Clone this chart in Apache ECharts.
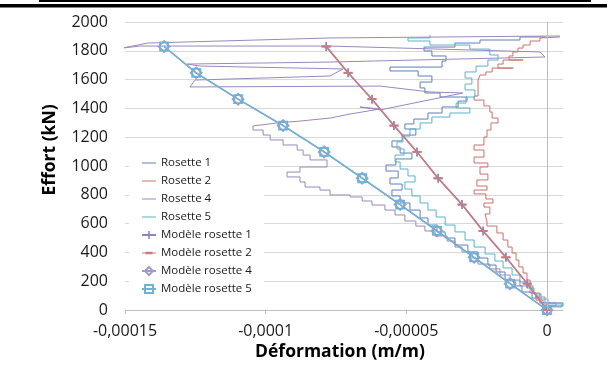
<!DOCTYPE html>
<html><head><meta charset="utf-8">
<script src="https://cdn.jsdelivr.net/npm/echarts@6/dist/echarts.min.js"></script>
<style>html,body{margin:0;padding:0;background:#fff}#c{width:607px;height:374px}</style>
</head><body><div id="c"></div>
<script>
// strain values are in µm/m (micro-strain), loads in kN
const MICRO = 1e-6;
const xTicks = [-0.00015, -0.0001, -0.00005, 0];
const seriesNames = ['Rosette 1','Rosette 2','Rosette 4','Rosette 5','Modèle rosette 1','Modèle rosette 2','Modèle rosette 4','Modèle rosette 5'];

const modelLoad = [0,183,366,549,732,915,1098,1281,1464,1647,1830];
const model12Strain = [0,-7.0,-14.6,-22.7,-30.2,-38.7,-46.2,-54.4,-62.2,-70.7,-78.5];
const model45Strain = [0,-13.1,-25.9,-39.1,-52.2,-65.7,-79.2,-93.8,-109.8,-124.7,-136.1];

const rosette1 = [[0,0],[0,28],[5.7,28],[5.7,49],[-2.5,49],[-2.5,83],[-5.3,83],[-5.3,125],[-8.9,125],[-8.9,167],[-11.4,167],[-11.4,208],[-14.9,208],[-14.9,264],[-18.1,264],[-18.1,312],[-21.0,312],[-21.0,361],[-24.5,361],[-24.5,403],[-28.1,403],[-28.1,451],[-32.7,451],[-32.7,500],[-36.2,500],[-36.2,542],[-39.1,542],[-39.1,590],[-42.3,590],[-42.3,639],[-45.1,639],[-45.1,694],[-48.7,694],[-48.7,743],[-52.2,743],[-52.2,792],[-55.1,792],[-55.1,833],[-51.5,833],[-51.5,875],[-55.8,875],[-55.8,917],[-52.9,917],[-52.9,965],[-57.2,965],[-57.2,1007],[-53.7,1007],[-53.7,1049],[-48.0,1049],[-48.0,1090],[-52.2,1090],[-52.2,1132],[-55.1,1132],[-55.1,1174],[-51.5,1174],[-51.5,1215],[-46.6,1215],[-46.6,1257],[-50.5,1257],[-50.5,1292],[-47.3,1292],[-47.3,1326],[-42.3,1326],[-42.3,1368],[-37.3,1368],[-37.3,1410],[-31.6,1410],[-31.6,1451],[-28.4,1451],[-28.4,1479],[-38.0,1479],[-38.0,1507],[-43.4,1507],[-43.4,1542],[-45.1,1542],[-45.1,1583],[-40.9,1583],[-40.9,1625],[-45.8,1625],[-45.8,1660],[-55.8,1660],[-55.8,1687],[-37.3,1687],[-37.3,1729],[-35.9,1729],[-35.9,1764],[-40.9,1764],[-40.9,1799],[-43.7,1799],[-43.7,1826],[-32.7,1826],[-32.7,1854],[-23.8,1854],[-23.8,1875],[-9.6,1875],[-9.6,1896],[-0.7,1896]];

const rosette2 = [[0.4,0],[0.4,35],[-1.4,35],[-1.4,69],[-3.9,69],[-3.9,97],[-2.5,97],[-2.5,118],[-5.0,118],[-5.0,167],[-6.0,167],[-6.0,208],[-7.1,208],[-7.1,257],[-8.5,257],[-8.5,299],[-10.0,299],[-10.0,347],[-11.0,347],[-11.0,396],[-12.4,396],[-12.4,437],[-13.9,437],[-13.9,486],[-15.6,486],[-15.6,535],[-17.8,535],[-17.8,583],[-21.3,583],[-21.3,611],[-22.0,611],[-22.0,667],[-20.3,667],[-20.3,715],[-22.4,715],[-22.4,743],[-19.2,743],[-19.2,771],[-21.7,771],[-21.7,806],[-25.9,806],[-25.9,833],[-21.3,833],[-21.3,861],[-24.9,861],[-24.9,903],[-21.0,903],[-21.0,944],[-23.8,944],[-23.8,993],[-21.0,993],[-21.0,1021],[-25.9,1021],[-25.9,1062],[-22.4,1062],[-22.4,1111],[-25.9,1111],[-25.9,1146],[-22.4,1146],[-22.4,1201],[-21.3,1201],[-21.3,1250],[-19.9,1250],[-19.9,1299],[-17.4,1299],[-17.4,1333],[-19.5,1333],[-19.5,1375],[-20.3,1375],[-20.3,1417],[-22.4,1417],[-22.4,1458],[-25.9,1458],[-25.9,1486],[-24.5,1486],[-24.5,1597],[-23.8,1597],[-23.8,1632],[-21.7,1632],[-21.7,1653],[-19.5,1653],[-19.5,1680],[-12.0,1680],[-17.4,1680],[-17.4,1708],[-15.6,1708],[-15.6,1736],[-8.5,1736],[-13.5,1736],[-13.5,1764],[-12.1,1764],[-12.1,1792],[-10.3,1792],[-10.3,1819],[-8.5,1819],[-8.5,1840],[-6.0,1840],[-6.0,1868],[-2.5,1868],[-2.5,1889],[4.6,1896]];

const rosette4 = [[0.7,0],[0.7,28],[3.2,28],[3.2,49],[-0.7,49],[-0.7,90],[-3.9,90],[-3.9,118],[-6.0,118],[-6.0,167],[-9.6,167],[-9.6,208],[-13.1,208],[-13.1,243],[-16.7,243],[-16.7,285],[-20.3,285],[-20.3,319],[-24.5,319],[-24.5,361],[-27.4,361],[-27.4,403],[-30.2,403],[-30.2,437],[-32.7,437],[-32.7,479],[-35.5,479],[-35.5,514],[-39.8,514],[-39.8,549],[-43.4,549],[-43.4,583],[-46.6,583],[-46.6,618],[-50.5,618],[-50.5,660],[-54.0,660],[-54.0,694],[-57.6,694],[-57.6,729],[-62.2,729],[-62.2,757],[-65.7,757],[-65.7,785],[-70.0,785],[-70.0,799],[-77.1,799],[-77.1,833],[-80.7,833],[-80.7,854],[-86.0,854],[-86.0,889],[-87.8,889],[-87.8,924],[-92.4,924],[-92.4,958],[-87.8,958],[-87.8,993],[-78.2,993],[-78.2,1042],[-84.2,1042],[-84.2,1076],[-86.7,1076],[-86.7,1111],[-88.8,1111],[-88.8,1146],[-93.8,1146],[-93.8,1181],[-98.4,1181],[-98.4,1215],[-100.9,1215],[-100.9,1250],[-104.5,1250],[-104.5,1278],[-95.9,1299],[-87.8,1312],[-77.1,1333],[-70.0,1361],[-59.3,1396],[-66.5,1410],[-59.3,1389],[-29.9,1507],[-41.6,1514],[-59.3,1555],[-126.9,1549],[-125.1,1597],[-77.1,1625],[-72.5,1674],[-123.3,1694],[-127.9,1708],[-77.1,1722],[-0.7,1757],[-2.5,1792],[-77.1,1833],[-144.6,1833],[-151.0,1819],[-141.8,1854],[-77.1,1889],[4.6,1903]];

const rosette5 = [[0,0],[0,21],[5.3,21],[5.3,42],[0.4,42],[0.4,76],[-2.1,76],[-2.1,111],[-4.6,111],[-4.6,153],[-7.1,153],[-7.1,194],[-9.6,194],[-9.6,243],[-12.4,243],[-12.4,292],[-15.6,292],[-15.6,340],[-18.5,340],[-18.5,389],[-22.0,389],[-22.0,437],[-25.9,437],[-25.9,486],[-29.1,486],[-29.1,542],[-32.7,542],[-32.7,590],[-36.2,590],[-36.2,646],[-39.4,646],[-39.4,694],[-42.3,694],[-42.3,743],[-45.1,743],[-45.1,792],[-48.0,792],[-48.0,840],[-50.5,840],[-50.5,889],[-46.9,889],[-46.9,931],[-49.4,931],[-49.4,979],[-52.2,979],[-52.2,1028],[-54.0,1028],[-54.0,1076],[-50.8,1076],[-50.8,1118],[-53.3,1118],[-53.3,1167],[-51.2,1167],[-51.2,1208],[-48.7,1208],[-48.7,1257],[-45.1,1257],[-45.1,1299],[-40.9,1299],[-40.9,1340],[-34.5,1340],[-34.5,1368],[-27.4,1368],[-27.4,1403],[-32.3,1403],[-32.3,1437],[-28.8,1437],[-28.8,1479],[-25.6,1479],[-25.6,1528],[-29.1,1528],[-29.1,1569],[-26.7,1569],[-26.7,1611],[-29.1,1611],[-29.1,1653],[-25.2,1653],[-25.2,1694],[-21.0,1694],[-21.0,1736],[-17.4,1736],[-17.4,1771],[-20.3,1771],[-20.3,1812],[-27.4,1812],[-27.4,1840],[-41.6,1840],[-41.6,1868],[-49.4,1868],[-49.4,1889],[-41.6,1889],[-41.6,1910]];

const FONT = 'Open Sans';
const toXY = arr => arr.map(p => [p[0] * MICRO, p[1]]);
const modelXY = s => s.map((v, i) => [v * MICRO, modelLoad[i]]);
const LINE_ICON = 'path://M0,4.5H14V5.5H0Z';
const DASH_ICON = 'path://M0,4.5H14V5.5H0Z M3.5,3.7H10.5V6.3H3.5Z';

const chart = echarts.init(document.getElementById('c'), null, {renderer: 'canvas'});
function dataLine(name, data, color, z) {
  return {name, type: 'line', data: toXY(data), symbol: 'none', showSymbol: false,
    lineStyle: {color, width: 1}, itemStyle: {color}, z, animation: false};
}
function modelLine(name, strain, color, symbol, size, hollow, z) {
  return {name, type: 'line', data: modelXY(strain), symbol, symbolSize: size, showSymbol: true,
    lineStyle: {color, width: 1.5},
    itemStyle: hollow ? {color: 'rgba(255,255,255,0)', borderColor: color, borderWidth: 1.8} : {color, borderColor: color, borderWidth: 0},
    z, animation: false};
}
const series = [
  dataLine(seriesNames[0], rosette1, '#5f7fb8', 2),
  dataLine(seriesNames[1], rosette2, '#c8726c', 2),
  dataLine(seriesNames[2], rosette4, '#9a88bc', 2),
  dataLine(seriesNames[3], rosette5, '#5ab3c9', 2),
  modelLine(seriesNames[4], model12Strain, '#8c86c4', 'path://M4,0H6V4H10V6H6V10H4V6H0V4H4Z', 9, false, 3),
  modelLine(seriesNames[5], model12Strain, '#cc7b7b', 'rect', [9, 2], false, 3),
  modelLine(seriesNames[6], model45Strain, '#a39acb', 'diamond', 11, true, 3),
  modelLine(seriesNames[7], model45Strain, '#6cb3d6', 'rect', 8, true, 3)
];
series[0].markLine = {silent: true, symbol: 'none', label: {show: false}, animation: false,
  lineStyle: {color: '#bfbfbf', width: 1, type: 'solid'}, data: [{xAxis: 0}]};

const legendData = seriesNames.map((n, i) => i < 4 ? {name: n, icon: LINE_ICON} : (i === 5 ? {name: n, icon: DASH_ICON} : {name: n}));

chart.setOption({
  animation: false,
  backgroundColor: '#fff',
  grid: {left: 125, right: 44, top: 22, bottom: 64},
  xAxis: {type: 'value', min: -0.00015, max: 0.0000057, interval: 0.00005,
    axisLine: {show: true, lineStyle: {color: '#bfbfbf'}},
    axisTick: {show: true, length: 4, lineStyle: {color: '#bfbfbf'}, customValues: xTicks},
    splitLine: {show: false},
    axisLabel: {customValues: xTicks, fontFamily: FONT, fontSize: 16, color: '#1a1a1a', margin: 13,
      formatter: v => Math.abs(v) < 1e-12 ? '0' : String(+v.toFixed(5)).replace('.', ',')}},
  yAxis: {type: 'value', min: 0, max: 2000, interval: 200,
    axisLine: {show: false}, axisTick: {show: false},
    splitLine: {lineStyle: {color: '#d9d9d9', width: 1}},
    axisLabel: {fontFamily: FONT, fontSize: 16, color: '#1a1a1a', margin: 17, formatter: v => String(v)}},
  legend: {orient: 'vertical', left: 129, top: 152, data: legendData,
    itemWidth: 14, itemHeight: 10, itemGap: 4, padding: [4, 12, 4, 12],
    backgroundColor: '#fff',
    textStyle: {fontFamily: FONT, fontSize: 11.5, color: '#1a1a1a', lineHeight: 14}},
  graphic: [
    {type: 'rect', shape: {x: 39, y: 0, width: 552, height: 2}, style: {fill: '#000'}},
    {type: 'rect', shape: {x: 0, y: 4, width: 607, height: 3.5}, style: {fill: '#000'}},
    {type: 'text', x: 50, y: 150, rotation: Math.PI / 2,
      style: {text: 'Effort (kN)', fontFamily: FONT, fontWeight: 'bold', fontSize: 17.5, fill: '#000', align: 'center', verticalAlign: 'middle'}},
    {type: 'text', x: 340, y: 352,
      style: {text: 'Déformation (m/m)', fontFamily: FONT, fontWeight: 'bold', fontSize: 17.5, fill: '#000', align: 'center', verticalAlign: 'middle'}}
  ],
  series
});
</script></body></html>
